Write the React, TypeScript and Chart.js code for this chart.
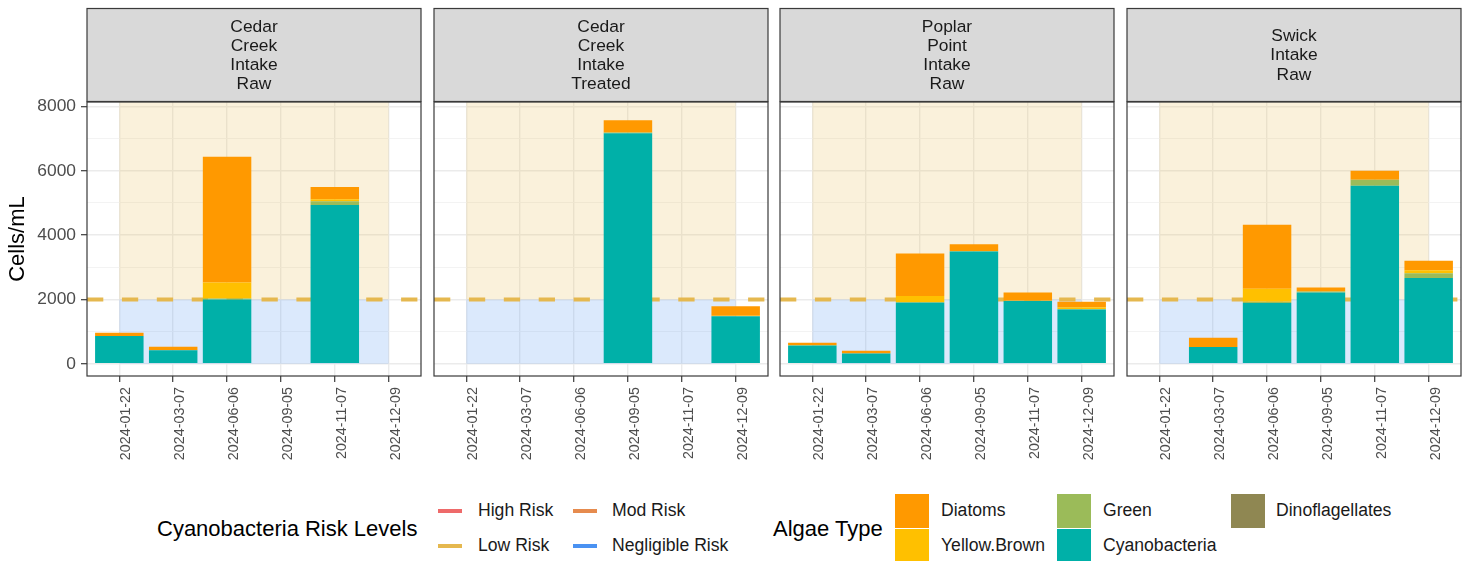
import React, { useEffect, useRef } from 'react';
import { Chart, registerables } from 'chart.js';

Chart.register(...registerables);

// ---------- data ----------
const sampleDates = ['2024-01-22', '2024-03-07', '2024-06-06', '2024-09-05', '2024-11-07', '2024-12-09'];
const siteNames = ['Cedar Creek Intake Raw', 'Cedar Creek Intake Treated', 'Poplar Point Intake Raw', 'Swick Intake Raw'];

// Cedar Creek Intake Raw
const ccRawCyano = [860, 420, 2000, null, 4935, null];
const ccRawDino = [0, 0, 0, null, 0, null];
const ccRawGreen = [0, 0, 26, null, 122, null];
const ccRawYellow = [0, 0, 500, null, 56, null];
const ccRawDiatoms = [106, 110, 3914, null, 383, null];

// Cedar Creek Intake Treated
const ccTrtCyano = [null, null, null, 7170, null, 1475];
const ccTrtDino = [null, null, null, 0, null, 0];
const ccTrtGreen = [null, null, null, 25, null, 0];
const ccTrtYellow = [null, null, null, 0, null, 20];
const ccTrtDiatoms = [null, null, null, 380, null, 290];

// Poplar Point Intake Raw
const ppRawCyano = [570, 320, 1900, 3490, 1950, 1685];
const ppRawDino = [0, 0, 0, 0, 0, 0];
const ppRawGreen = [0, 0, 20, 15, 10, 20];
const ppRawYellow = [15, 0, 190, 0, 0, 50];
const ppRawDiatoms = [70, 85, 1320, 215, 255, 175];

// Swick Intake Raw
const swRawCyano = [null, 520, 1890, 2220, 5535, 2670];
const swRawDino = [null, 0, 0, 0, 0, 0];
const swRawGreen = [null, 0, 40, 30, 190, 145];
const swRawYellow = [null, 0, 400, 0, 0, 95];
const swRawDiatoms = [null, 290, 1990, 120, 280, 290];

const siteSeries = [
  [ccRawCyano, ccRawDino, ccRawGreen, ccRawYellow, ccRawDiatoms],
  [ccTrtCyano, ccTrtDino, ccTrtGreen, ccTrtYellow, ccTrtDiatoms],
  [ppRawCyano, ppRawDino, ppRawGreen, ppRawYellow, ppRawDiatoms],
  [swRawCyano, swRawDino, swRawGreen, swRawYellow, swRawDiatoms],
];

// stacking order bottom -> top
const stackTypes = ['Cyanobacteria', 'Dinoflagellates', 'Green', 'Yellow.Brown', 'Diatoms'];
const stackColors = ['#00B0A8', '#8F8752', '#9BBB59', '#FFC000', '#FF9900'];

const yTickValues = [0, 1000, 2000, 3000, 4000, 5000, 6000, 7000, 8000];
const lowRiskThreshold = 2000;

const riskLevels = ['High Risk', 'Mod Risk', 'Low Risk', 'Negligible Risk'];
const riskColors = ['#EE6A6A', '#E68B4E', '#E5B84F', '#4A92F2'];

const legendAlgae = ['Diatoms', 'Yellow.Brown', 'Green', 'Cyanobacteria', 'Dinoflagellates'];
const legendAlgaeColors = ['#FF9900', '#FFC000', '#9BBB59', '#00B0A8', '#8F8752'];

// ---------- layout ----------
const FONT = "'Liberation Sans', Arial, Helvetica, sans-serif";
const CANVAS_H = 470;
const PLOT_TOP = 102;
const PLOT_BOTTOM = 376;
const PANEL_W = 334;
const panelLefts = [87, 434, 780, 1127];

function makeFacetPlugin(siteName: string) {
  return {
    id: 'facet',
    beforeDatasetsDraw(chart: any) {
      const { ctx, chartArea, scales } = chart;
      const x = scales.x;
      const y = scales.y;
      ctx.save();
      ctx.beginPath();
      ctx.rect(chartArea.left, chartArea.top, chartArea.right - chartArea.left, chartArea.bottom - chartArea.top);
      ctx.clip();
      const x0 = x.getPixelForValue(0);
      const x1 = x.getPixelForValue(sampleDates.length - 1);
      const yT = y.getPixelForValue(lowRiskThreshold);
      const yZ = y.getPixelForValue(0);
      ctx.fillStyle = 'rgba(230,184,74,0.2)';
      ctx.fillRect(x0, chartArea.top, x1 - x0, yT - chartArea.top);
      ctx.fillStyle = 'rgba(74,146,242,0.2)';
      ctx.fillRect(x0, yT, x1 - x0, yZ - yT);
      ctx.strokeStyle = riskColors[2];
      ctx.lineWidth = 4;
      ctx.lineCap = 'butt';
      ctx.setLineDash([16.3, 18.6]);
      ctx.beginPath();
      ctx.moveTo(chartArea.left, yT);
      ctx.lineTo(chartArea.right, yT);
      ctx.stroke();
      ctx.restore();
    },
    afterDraw(chart: any) {
      const { ctx, chartArea } = chart;
      const l = chartArea.left;
      const w = chartArea.right - chartArea.left;
      ctx.save();
      ctx.fillStyle = '#D9D9D9';
      ctx.fillRect(l, 8.5, w, 93);
      ctx.strokeStyle = '#3A3A3A';
      ctx.lineWidth = 1.2;
      ctx.strokeRect(l, 8.5, w, 93);
      ctx.strokeRect(l, chartArea.top, w, chartArea.bottom - chartArea.top);
      const lines = siteName.split(' ');
      const lh = 19.3;
      const cy = 55.7;
      ctx.fillStyle = '#1A1A1A';
      ctx.font = `17.4px ${FONT}`;
      ctx.textAlign = 'center';
      ctx.textBaseline = 'middle';
      lines.forEach((t, i) => {
        ctx.fillText(t, l + w / 2, cy + (i - (lines.length - 1) / 2) * lh);
      });
      ctx.restore();
    },
  };
}

function Panel({ idx }: { idx: number }) {
  const ref = useRef<HTMLCanvasElement | null>(null);
  const showY = idx === 0;
  const canvasLeft = showY ? 0 : panelLefts[idx] - 2;
  const canvasW = showY ? panelLefts[0] + PANEL_W + 2 : PANEL_W + 4;

  useEffect(() => {
    if (!ref.current) return;
    const series = siteSeries[idx];
    const datasets = stackTypes.map((name, k) => ({
      label: name,
      data: sampleDates.map((_, i) => ({ x: i, y: series[k][i] })),
      backgroundColor: stackColors[k],
      borderWidth: 0,
      barPercentage: 0.9,
      categoryPercentage: 1,
    }));
    const chart = new Chart(ref.current, {
      type: 'bar',
      data: { datasets } as any,
      options: {
        responsive: false,
        animation: false,
        devicePixelRatio: 1,
        layout: { padding: { left: showY ? 0 : 2, right: 2, top: PLOT_TOP, bottom: 0 } },
        plugins: { legend: { display: false }, tooltip: { enabled: false } },
        scales: {
          x: {
            type: 'linear',
            stacked: true,
            min: -0.6,
            max: sampleDates.length - 1 + 0.6,
            offset: false,
            afterBuildTicks: (s: any) => {
              s.ticks = sampleDates.map((_, i) => ({ value: i }));
            },
            afterFit: (s: any) => {
              s.height = CANVAS_H - PLOT_BOTTOM;
            },
            ticks: {
              autoSkip: false,
              includeBounds: false,
              minRotation: 90,
              maxRotation: 90,
              padding: 5,
              labelOffset: 7,
              color: '#4D4D4D',
              font: { family: FONT, size: 14.3 },
              callback: (v: any) => sampleDates[Math.round(Number(v))] ?? '',
            },
            grid: {
              offset: false,
              color: '#EBEBEB',
              lineWidth: 1.4,
              drawTicks: true,
              tickLength: 6,
              tickColor: '#3A3A3A',
              tickWidth: 1.2,
            },
            border: { display: false },
          },
          y: {
            type: 'linear',
            stacked: true,
            min: -380,
            max: 8140,
            afterBuildTicks: (s: any) => {
              s.ticks = yTickValues.map((v) => ({ value: v }));
            },
            afterFit: (s: any) => {
              s.width = showY ? panelLefts[0] : 0;
            },
            ticks: {
              display: showY,
              padding: 5,
              color: '#4D4D4D',
              font: { family: FONT, size: 17.4 },
              callback: (v: any) => (Number(v) % 2000 === 0 ? String(v) : ''),
            },
            grid: {
              color: (c: any) => (c.tick && c.tick.value % 2000 === 0 ? '#EBEBEB' : '#F2F2F2'),
              lineWidth: (c: any) => (c.tick && c.tick.value % 2000 === 0 ? 1.4 : 0.9),
              drawTicks: showY,
              tickLength: 6,
              tickColor: (c: any) => (c.tick && c.tick.value % 2000 === 0 ? '#3A3A3A' : 'rgba(0,0,0,0)'),
              tickWidth: 1.2,
            },
            border: { display: false },
            title: {
              display: showY,
              text: 'Cells/mL',
              color: '#000000',
              font: { family: FONT, size: 22 },
              padding: { top: 5, bottom: 0 },
            },
          },
        },
      } as any,
      plugins: [makeFacetPlugin(siteNames[idx])],
    });
    return () => chart.destroy();
  }, []);

  return (
    <canvas
      ref={ref}
      width={canvasW}
      height={CANVAS_H}
      style={{ position: 'absolute', left: canvasLeft, top: 0, width: canvasW, height: CANVAS_H }}
    />
  );
}

const textStyle = (left: number, cy: number, size: number, color = '#1A1A1A'): React.CSSProperties => ({
  position: 'absolute',
  left,
  top: cy - size * 0.6,
  height: size * 1.2,
  lineHeight: `${size * 1.2}px`,
  fontSize: size,
  fontFamily: FONT,
  color,
  whiteSpace: 'nowrap',
});

function Legend() {
  const rowY = [511, 546];
  const riskPos = [
    { key: 438, text: 478, row: 0 },
    { key: 573, text: 612, row: 0 },
    { key: 438, text: 478, row: 1 },
    { key: 573, text: 612, row: 1 },
  ];
  const algaePos = [
    { key: 895, text: 941, row: 0 },
    { key: 895, text: 941, row: 1 },
    { key: 1057, text: 1103, row: 0 },
    { key: 1057, text: 1103, row: 1 },
    { key: 1231, text: 1276, row: 0 },
  ];
  return (
    <>
      <div style={textStyle(157, 529, 22, '#000')}>Cyanobacteria Risk Levels</div>
      {riskLevels.map((name, i) => (
        <React.Fragment key={name}>
          <div
            style={{
              position: 'absolute',
              left: riskPos[i].key,
              top: rowY[riskPos[i].row] - 2,
              width: 24,
              height: 4,
              background: riskColors[i],
            }}
          />
          <div style={textStyle(riskPos[i].text, rowY[riskPos[i].row], 17.6)}>{name}</div>
        </React.Fragment>
      ))}
      <div style={textStyle(773, 529, 22, '#000')}>Algae Type</div>
      {legendAlgae.map((name, i) => (
        <React.Fragment key={name}>
          <div
            style={{
              position: 'absolute',
              left: algaePos[i].key,
              top: rowY[algaePos[i].row] - 17,
              width: 34,
              height: 34,
              background: legendAlgaeColors[i],
            }}
          />
          <div style={textStyle(algaePos[i].text, rowY[algaePos[i].row], 17.6)}>{name}</div>
        </React.Fragment>
      ))}
    </>
  );
}

export default function App() {
  return (
    <div
      style={{
        position: 'absolute',
        left: 0,
        top: 0,
        width: 1470,
        height: 561,
        overflow: 'hidden',
        background: '#FFFFFF',
      }}
    >
      {siteNames.map((_, i) => (
        <Panel key={i} idx={i} />
      ))}
      <Legend />
    </div>
  );
}
